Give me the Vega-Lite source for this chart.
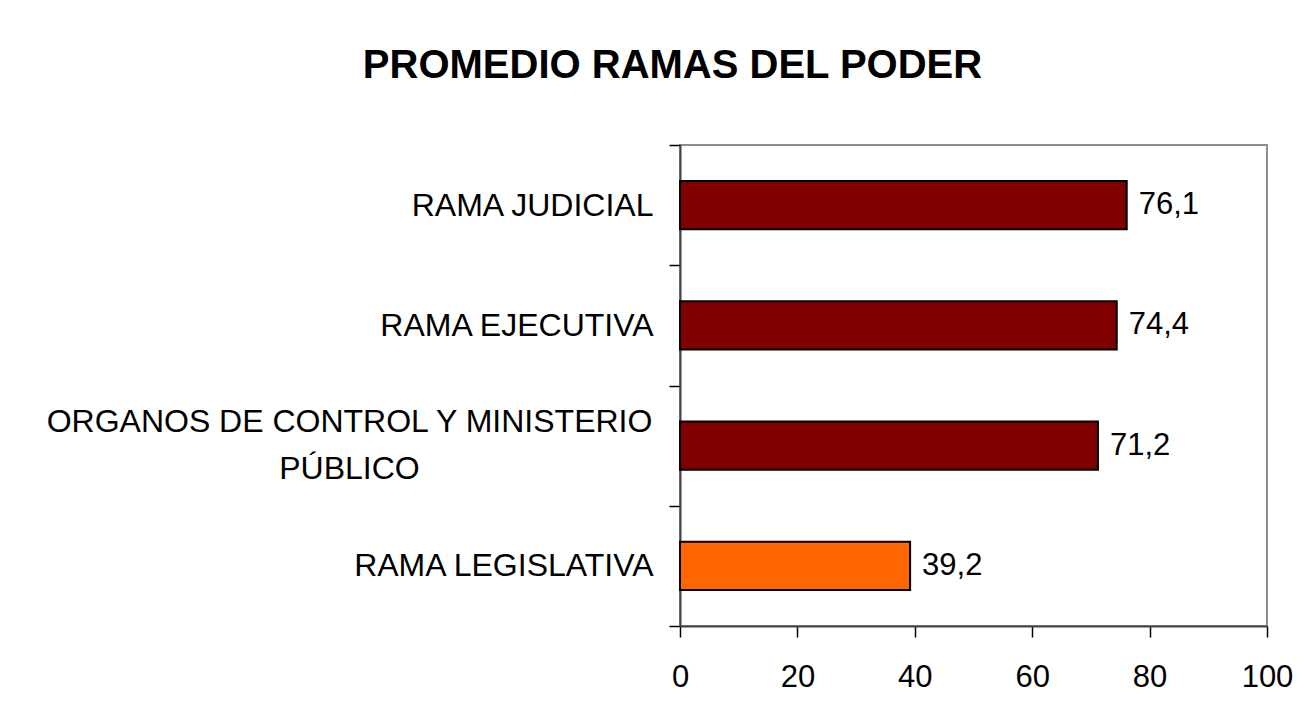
{
  "$schema": "https://vega.github.io/schema/vega-lite/v6.json",
  "width": 587,
  "height": 481,
  "autosize": {"type": "none"},
  "padding": {"left": 680, "top": 145, "right": 37, "bottom": 101},
  "background": "white",
  "config": {
    "font": "Liberation Sans",
    "view": {"stroke": "#8c8c8c", "strokeWidth": 2},
    "locale": {"number": {"decimal": ",", "thousands": ".", "grouping": [3], "currency": ["", ""]}}
  },
  "title": {
    "text": "PROMEDIO RAMAS DEL PODER",
    "font": "Liberation Sans",
    "fontSize": 40,
    "fontWeight": "bold",
    "color": "black",
    "anchor": "middle",
    "frame": "group",
    "baseline": "alphabetic",
    "offset": 11,
    "dx": -301
  },
  "data": {
    "values": [
      {"rama": "RAMA JUDICIAL", "valor": 76.1},
      {"rama": "RAMA EJECUTIVA", "valor": 74.4},
      {"rama": "ORGANOS DE CONTROL Y MINISTERIO PÚBLICO", "valor": 71.2},
      {"rama": "RAMA LEGISLATIVA", "valor": 39.2}
    ]
  },
  "encoding": {
    "y": {
      "field": "rama",
      "type": "nominal",
      "sort": null,
      "scale": {"paddingInner": 0, "paddingOuter": 0},
      "axis": {
        "title": null,
        "tickBand": "extent",
        "tickSize": 11,
        "tickColor": "black",
        "tickWidth": 1.5,
        "domainColor": "#444444",
        "domainWidth": 2,
        "labelFont": "Liberation Sans",
        "labelFontSize": 32,
        "labelColor": "black",
        "labelLimit": 700,
        "labelLineHeight": 47,
        "labelBaseline": "middle",
        "labelExpr": "datum.label == 'ORGANOS DE CONTROL Y MINISTERIO PÚBLICO' ? ['ORGANOS DE CONTROL Y MINISTERIO', 'PÚBLICO'] : datum.label",
        "labelAlign": {"condition": {"test": "datum.value == 'ORGANOS DE CONTROL Y MINISTERIO PÚBLICO'", "value": "center"}, "value": "right"},
        "labelPadding": {"condition": {"test": "datum.value == 'ORGANOS DE CONTROL Y MINISTERIO PÚBLICO'", "value": 320}, "value": 16},
        "labelOffset": {"condition": {"test": "datum.value == 'ORGANOS DE CONTROL Y MINISTERIO PÚBLICO'", "value": -24}, "value": 0}
      }
    },
    "x": {
      "field": "valor",
      "type": "quantitative",
      "scale": {"domain": [0, 100], "nice": false},
      "axis": {
        "title": null,
        "values": [0, 20, 40, 60, 80, 100],
        "grid": false,
        "tickSize": 11,
        "tickColor": "black",
        "tickWidth": 1.5,
        "domainColor": "#444444",
        "domainWidth": 2,
        "labelFont": "Liberation Sans",
        "labelFontSize": 31,
        "labelColor": "black",
        "labelPadding": 25,
        "labelFlush": false
      }
    }
  },
  "layer": [
    {
      "mark": {"type": "bar", "height": {"band": 0.4}, "stroke": "black", "strokeWidth": 2},
      "encoding": {
        "color": {
          "condition": {"test": "datum.rama == 'RAMA LEGISLATIVA'", "value": "#FF6600"},
          "value": "#800000"
        }
      }
    },
    {
      "mark": {"type": "text", "align": "left", "baseline": "middle", "dx": 12, "fontSize": 31, "font": "Liberation Sans", "color": "black"},
      "encoding": {
        "text": {"field": "valor", "type": "quantitative", "format": ".1f"}
      }
    }
  ]
}
